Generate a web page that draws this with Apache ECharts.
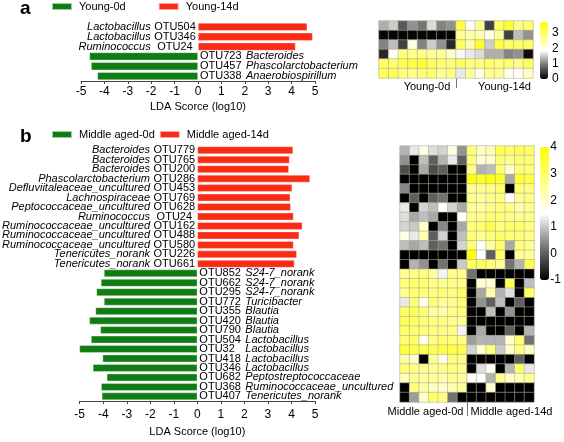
<!DOCTYPE html>
<html><head><meta charset="utf-8">
<script src="https://cdn.jsdelivr.net/npm/echarts@6/dist/echarts.min.js"></script>
<style>html,body{margin:0;padding:0;background:#fff}#c{width:564px;height:442px}</style>
</head><body><div id="c"></div>
<script>
// ---------- Panel a ----------
const groupsA = ['Young-0d', 'Young-14d'];
const otuA = ['OTU504', 'OTU346', 'OTU24', 'OTU723', 'OTU457', 'OTU338'];
const taxaA = ['Lactobacillus', 'Lactobacillus', 'Ruminococcus', 'Bacteroides', 'Phascolarctobacterium', 'Anaerobiospirillum'];
const ldaA = [4.67, 4.9, 4.17, -4.64, -4.57, -4.3];
const samplesA = ['Y0-1','Y0-2','Y0-3','Y0-4','Y0-5','Y0-6','Y0-7','Y0-8','Y14-1','Y14-2','Y14-3','Y14-4','Y14-5','Y14-6','Y14-7','Y14-8'];
const heatA = [
  [1.3,1.5,0.7,1.1,0.9,1.6,1.0,1.1, 3.2,1.9,2.6,0.5,3.0,3.3,2.7,2.9],
  [0.05,0.05,0.05,0.05,0.05,0.05,0.05,0.05, 2.6,2.5,2.4,2.0,2.6,0.5,1.4,1.1],
  [1.0,1.4,0.5,2.1,1.0,1.5,1.1,0.3, 3.0,2.4,3.4,1.5,3.2,3.0,3.0,3.0],
  [0.3,1.9,2.8,2.7,2.7,2.6,2.6,2.2, 1.8,1.7,1.6,1.3,1.3,1.0,1.1,0.1],
  [3.0,2.9,3.1,3.2,3.3,3.0,2.9,2.8, 3.0,2.8,2.8,2.9,2.8,2.9,2.7,3.0],
  [3.0,3.1,2.8,2.7,2.8,2.9,2.6,2.8, 1.7,2.6,2.0,2.7,2.6,2.0,1.9,2.3]
];
const ticksCbA = [0, 1, 2, 3];

// ---------- Panel b ----------
const groupsB = ['Middle aged-0d', 'Middle aged-14d'];
const otuB = ['OTU779','OTU765','OTU200','OTU286','OTU453','OTU769','OTU628','OTU24','OTU162','OTU488','OTU580','OTU226','OTU661',
  'OTU852','OTU662','OTU295','OTU772','OTU355','OTU420','OTU790','OTU504','OTU32','OTU418','OTU346','OTU682','OTU368','OTU407'];
const taxaB = ['Bacteroides','Bacteroides','Bacteroides','Phascolarctobacterium','Defluviitaleaceae_uncultured','Lachnospiraceae',
  'Peptococcaceae_uncultured','Ruminococcus','Ruminococcaceae_uncultured','Ruminococcaceae_uncultured','Ruminococcaceae_uncultured',
  'Tenericutes_norank','Tenericutes_norank',
  'S24-7_norank','S24-7_norank','S24-7_norank','Turicibacter','Blautia','Blautia','Blautia','Lactobacillus','Lactobacillus',
  'Lactobacillus','Lactobacillus','Peptostreptococcaceae','Ruminococcaceae_uncultured','Tenericutes_norank'];
const ldaB = [4.07,3.92,3.89,4.79,4.03,3.95,3.97,4.09,4.46,4.33,4.09,4.23,4.13,
  -3.97,-4.10,-4.29,-3.97,-4.33,-4.59,-4.12,-4.52,-5.07,-4.03,-4.44,-3.85,-4.09,-4.06];
const samplesB = ['M0-1','M0-2','M0-3','M0-4','M0-5','M0-6','M0-7','M14-1','M14-2','M14-3','M14-4','M14-5','M14-6','M14-7'];
const heatB = [
  [0.8,1.3,1.7,1.2,1.1,1.8,0.5, 2.8,2.0,2.2,3.2,3.0,3.1,3.0],
  [0.5,-1,0.9,0.0,0.8,1.3,0.0, 2.8,1.9,2.0,2.8,2.6,2.9,2.8],
  [-0.2,-1,0.7,-0.2,0.0,-1,-1, 2.7,0.8,0.9,2.9,1.9,2.8,2.8],
  [-1,-1,-1,-1,-1,-1,-1, 3.8,3.7,3.8,3.6,0.7,3.5,3.3],
  [0.4,-1,-1,-1,-1,-1,-1, 2.5,2.6,2.7,2.9,-1,2.8,2.7],
  [-1,0.0,-1,0.0,0.2,-1,-1, 2.6,2.5,2.6,2.8,1.5,2.6,2.7],
  [1.3,-1,1.1,0.9,1.5,1.1,0.7, 2.5,2.4,2.6,2.8,2.7,2.3,2.6],
  [1.2,0.7,0.9,0.7,-1,-1,1.6, 2.6,2.7,2.8,2.9,2.7,2.6,2.7],
  [1.1,1.0,2.0,-1,0.4,-1,0.7, 2.8,2.9,3.3,2.7,3.0,2.9,2.8],
  [1.8,1.3,2.3,0.0,1.1,-1,0.9, 2.8,2.6,2.8,3.0,2.9,2.8,2.7],
  [0.9,0.7,0.9,0.0,0.2,-1,1.1, 2.9,1.6,2.5,3.0,0.7,2.8,2.6],
  [-1,-1,-1,-1,-1,-1,-1, 3.9,1.5,0.0,3.0,-1,2.5,2.6],
  [-1,0.8,0.5,-1,0.2,-1,1.0, 3.0,3.1,2.9,2.5,0.2,0.8,3.2],
  [2.6,2.7,2.8,2.4,1.4,2.7,2.6, 0.2,-1,-1,-1,-1,-1,-1],
  [2.8,3.0,2.9,2.7,2.6,2.7,2.7, -1,1.9,2.0,-1,3.2,-1,0.9],
  [2.6,2.9,2.8,2.7,2.9,2.7,3.0, -1,0.7,2.3,0.8,1.2,-1,3.0],
  [1.3,2.8,1.7,2.8,2.5,2.6,2.9, -1,0.5,0.0,0.9,-1,0.0,-1],
  [3.0,3.1,2.8,2.4,2.3,2.6,2.8, -1,-1,0.9,-1,0.5,-1,-1],
  [3.2,3.0,2.9,2.7,2.8,2.6,2.6, -1,-1,-1,-1,-1,-1,-1],
  [3.0,2.9,2.8,2.8,2.7,2.7,1.4, -1,0.7,-1,-1,0.0,-1,0.8],
  [2.9,3.0,1.7,2.7,2.9,2.8,2.8, 0.6,0.8,0.8,0.8,2.0,2.9,0.2],
  [3.4,3.2,3.2,3.1,3.3,3.3,3.2, 1.1,2.0,2.8,1.0,2.0,2.7,2.1],
  [2.4,2.0,-1,2.6,1.8,2.8,2.7, -1,-1,-1,-1,-1,0.0,-1],
  [2.8,2.7,2.6,2.5,2.7,2.8,2.6, -1,1.2,1.6,-1,0.8,3.0,1.3],
  [2.2,2.5,2.4,2.5,2.3,2.6,2.4, 1.6,1.5,0.8,2.6,2.0,2.2,2.5],
  [-1,2.8,2.4,2.2,2.0,2.3,2.5, -1,-1,2.0,-1,-1,-1,-1],
  [-1,0.6,2.0,3.0,2.7,0.2,-1, -1,-1,-1,-1,-1,-1,-1]
];
const ticksCbB = [-1, 0, 1, 2, 3, 4];
const ldaTicks = [-5, -4, -3, -2, -1, 0, 1, 2, 3, 4, 5];
const ldaTitle = 'LDA Scorce (log10)';

// ---------- styles ----------
const RED = '#fb2a14', GREEN = '#0f7d12';
const FONT = 'Liberation Sans, Arial, sans-serif';
const TXT = '#000';

function heatData(m) {
  const out = [];
  m.forEach((row, r) => row.forEach((v, c) => out.push([c, r, v])));
  return out;
}
function ldaAxis(grid, gap, margin) {
  return {
    type: 'value', gridIndex: grid, min: ldaTicks[0], max: ldaTicks[ldaTicks.length - 1], interval: 1,
    name: ldaTitle, nameLocation: 'middle', nameGap: gap,
    nameTextStyle: { fontFamily: FONT, fontSize: 11, color: TXT },
    axisLine: { show: true, lineStyle: { color: '#444', width: 1 } },
    axisTick: { show: true, length: 3, lineStyle: { color: '#444' } },
    axisLabel: { fontFamily: FONT, fontSize: 12, color: TXT, margin: margin },
    splitLine: { show: false }
  };
}
function hidden(type, grid, data, inverse) {
  const o = { type: type, gridIndex: grid, show: false, splitLine: { show: false } };
  if (data) o.data = data;
  if (inverse) o.inverse = true;
  return o;
}
function groupAxis(grid, groups, tickLen, margin, padL, padR) {
  return {
    type: 'value', gridIndex: grid, min: 0, max: groups.length, position: 'bottom',
    axisLine: { show: false }, splitLine: { show: false },
    axisTick: { show: true, length: tickLen, customValues: [1], lineStyle: { color: '#777' } },
    axisLabel: {
      customValues: [0.5, 1.5], margin: margin, fontFamily: FONT, fontSize: 11, color: TXT,
      formatter: v => (v < 1 ? '{l|' : '{r|') + groups[Math.floor(v)] + '}',
      rich: { l: { padding: padL, fontFamily: FONT, fontSize: 11, color: TXT },
              r: { padding: padR, fontFamily: FONT, fontSize: 11, color: TXT } }
    }
  };
}
function cbAxis(grid, ticks) {
  return {
    type: 'value', gridIndex: grid, position: 'right', min: ticks[0], max: ticks[ticks.length - 1], interval: 1,
    axisLine: { show: false }, axisTick: { show: false }, splitLine: { show: false },
    axisLabel: { fontFamily: FONT, fontSize: 12, color: TXT, margin: 4 }
  };
}
function cbMax(ticks, extra) { return ticks[ticks.length - 1] + extra; }

const richRed = {
  i: { fontStyle: 'italic', fontFamily: FONT, fontSize: 11, color: TXT },
  n: { fontFamily: FONT, fontSize: 11, color: TXT, width: 42, align: 'left' }
};
const richGreen = {
  n: { fontFamily: FONT, fontSize: 11, color: TXT, width: 46, align: 'left' },
  i: { fontStyle: 'italic', fontFamily: FONT, fontSize: 11, color: TXT }
};
function barSeries(name, color, xi, yi, lda, otu, taxa, positive, bw) {
  return {
    type: 'bar', name: name, xAxisIndex: xi, yAxisIndex: yi, stack: 'g' + xi,
    barWidth: bw, itemStyle: { color: color, borderColor: 'rgba(255,255,255,0.6)', borderWidth: 0.6 },
    data: lda.map(v => (positive ? (v > 0 ? v : '-') : (v < 0 ? v : '-'))),
    label: {
      show: true, position: positive ? 'left' : 'right', distance: 2,
      formatter: p => positive ? '{i|' + taxa[p.dataIndex] + '} {n|' + otu[p.dataIndex] + '}'
                               : '{n|' + otu[p.dataIndex] + '}{i|' + taxa[p.dataIndex] + '}',
      rich: positive ? richRed : richGreen
    },
    emphasis: { disabled: true }, animation: false
  };
}

const cbColors = ['#000000', '#777777', '#ffffff', '#ffff80', '#ffff00'];

const option = {
  animation: false,
  textStyle: { fontFamily: FONT },
  title: [
    { text: 'a', left: 20, top: -1, padding: 0, textStyle: { fontFamily: FONT, fontSize: 19, fontWeight: 'bold', color: '#000' } },
    { text: 'b', left: 20, top: 127, padding: 0, textStyle: { fontFamily: FONT, fontSize: 19, fontWeight: 'bold', color: '#000' } }
  ],
  legend: [
    { data: groupsA, left: 51, top: 1, padding: 0, itemWidth: 20, itemHeight: 7, itemGap: 32, icon: 'rect',
      textStyle: { fontFamily: FONT, fontSize: 11, color: TXT, padding: [0, 0, 0, 2] } },
    { data: groupsB, left: 51, top: 129, padding: 0, itemWidth: 20, itemHeight: 7, itemGap: 4, icon: 'rect',
      textStyle: { fontFamily: FONT, fontSize: 11, color: TXT, padding: [0, 0, 0, 2] } }
  ],
  grid: [
    { left: 81, top: 22, width: 234, height: 59 },
    { left: 379, top: 21, width: 154, height: 57 },
    { left: 540, top: 22, width: 8, height: 57 },
    { left: 79.7, top: 145.5, width: 235.3, height: 258.5 },
    { left: 400, top: 146, width: 134, height: 256 },
    { left: 540, top: 147, width: 9, height: 133 }
  ],
  xAxis: [
    ldaAxis(0, 20, 5),
    hidden('category', 1, samplesA),
    groupAxis(1, groupsA, 10, 3, [0, 0, 0, 19], [0, 0, 0, 20]),
    hidden('value', 2),
    ldaAxis(3, 24, 8),
    hidden('category', 4, samplesB),
    groupAxis(4, groupsB, 14, 4, [0, 16, 0, 0], [0, 0, 0, 22]),
    hidden('value', 5)
  ],
  yAxis: [
    hidden('category', 0, otuA, true),
    hidden('category', 1, otuA, true),
    Object.assign(cbAxis(2, ticksCbA), { max: cbMax(ticksCbA, 0.7), axisLabel: { fontFamily: FONT, fontSize: 12, color: TXT, margin: 4, showMaxLabel: false, formatter: v => (Number.isInteger(v) ? String(v) : '') } }),
    hidden('category', 3, otuB, true),
    hidden('category', 4, otuB, true),
    cbAxis(5, ticksCbB)
  ],
  visualMap: [
    { type: 'continuous', seriesIndex: 2, min: 0, max: cbMax(ticksCbA, 0.7), left: 540, top: 22, itemWidth: 8, itemHeight: 57,
      padding: 0, calculable: false, hoverLink: false, text: null, showLabel: false, inRange: { color: cbColors } },
    { type: 'continuous', seriesIndex: 5, min: ticksCbB[0], max: ticksCbB[ticksCbB.length - 1], left: 540, top: 147, itemWidth: 9, itemHeight: 133,
      padding: 0, calculable: false, hoverLink: false, text: null, showLabel: false, inRange: { color: cbColors } }
  ],
  series: [
    barSeries(groupsA[1], RED, 0, 0, ldaA, otuA, taxaA, true, 8),
    barSeries(groupsA[0], GREEN, 0, 0, ldaA, otuA, taxaA, false, 8),
    { type: 'heatmap', xAxisIndex: 1, yAxisIndex: 1, data: heatData(heatA),
      itemStyle: { borderColor: 'rgba(170,170,150,0.55)', borderWidth: 1 }, emphasis: { disabled: true } },
    barSeries(groupsB[1], RED, 4, 3, ldaB, otuB, taxaB, true, 7.6),
    barSeries(groupsB[0], GREEN, 4, 3, ldaB, otuB, taxaB, false, 7.6),
    { type: 'heatmap', xAxisIndex: 5, yAxisIndex: 4, data: heatData(heatB),
      itemStyle: { borderColor: 'rgba(170,170,150,0.55)', borderWidth: 1 }, emphasis: { disabled: true } }
  ]
};
const chart = echarts.init(document.getElementById('c'), null, { renderer: 'canvas' });
chart.setOption(option);
</script></body></html>
